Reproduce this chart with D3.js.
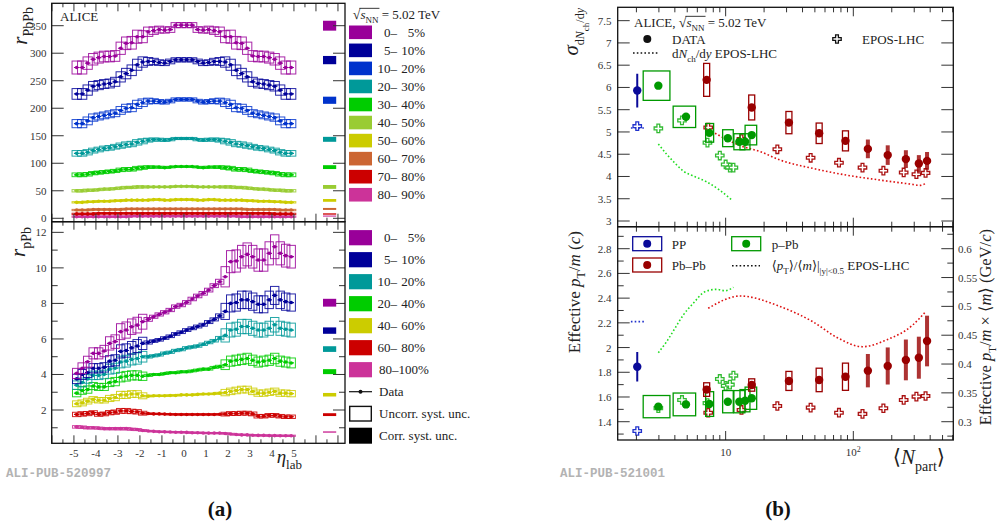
<!DOCTYPE html>
<html><head><meta charset="utf-8">
<script src="https://cdn.jsdelivr.net/npm/d3@7"></script>
<style>
body{margin:0;background:#fff}
svg{display:block}
</style>
</head><body>
<svg id="c" width="1001" height="531" font-family="'Liberation Serif','DejaVu Serif',serif" fill="#222"></svg>
<script>
// ---------------- DATA ----------------
const etaBins = [-4.875,-4.625,-4.375,-4.125,-3.875,-3.625,-3.375,-3.125,-2.875,-2.625,-2.375,-2.125,-1.875,-1.625,-1.375,-1.125,-0.875,-0.625,-0.375,-0.125,0.125,0.375,0.625,0.875,1.125,1.375,1.625,1.875,2.125,2.375,2.625,2.875,3.125,3.375,3.625,3.875,4.125,4.375,4.625,4.875];

const pbpbLabels = ["0–|5%","5–|10%","10–|20%","20–|30%","30–|40%","40–|50%","50–|60%","60–|70%","70–|80%","80–|90%"];
const pbpbColors = ["#990099","#000099","#0033cc","#009999","#00cc00","#99cc33","#cccc00","#cc6633","#cc0000","#cc3399"];
const pbpb_0_5   = [274,274,282,289,292,294,294,295,309,318,319,330,330,339,341,343,342,343,351,351,351,351,343,342,343,341,339,330,330,319,318,309,295,294,294,292,289,282,274,274];
const pbpb_5_10  = [226,226,233,240,242,244,245,248,257,263,269,279,284,285,285,283,282,285,288,288,288,288,285,282,283,285,285,284,279,269,263,257,248,245,244,242,240,233,226,226];
const pbpb_10_20 = [172,172,177,183,185,187,189,191,196,200,201,207,210,213,213,212,211,213,216,216,216,216,213,211,212,213,213,210,207,201,200,196,191,189,187,185,183,177,172,172];
const pbpb_20_30 = [118,118,120,123,125,127,128,130,132,134,135,138,140,142,143,143,142,143,145,145,145,145,143,142,143,143,142,140,138,135,134,132,130,128,127,125,123,120,118,118];
const pbpb_30_40 = [79,79,80,82,83,84,85,86,88,89,89,91,92,93,93,93,92,93,94,94,94,94,93,92,93,93,93,92,91,89,89,88,86,85,84,83,82,80,79,79];
const pbpb_40_50 = [50,50,51,51,52,53,53,54,55,56,56,57,57,57,57,57,57,57,58,58,58,58,57,57,57,57,57,57,57,56,56,55,54,53,53,52,51,51,50,50];
const pbpb_50_60 = [29,29,30,30,31,31,31,32,32,33,33,33,33,33,34,34,33,33,34,34,34,34,33,33,34,34,33,33,33,33,33,32,32,31,31,31,30,30,29,29];
const pbpb_60_70 = [15,15,15,16,16,16,16,16,16,17,17,17,17,17,17,17,17,17,17,17,17,17,17,17,17,17,17,17,17,17,17,16,16,16,16,16,16,15,15,15];
const pbpb_70_80 = [8,8,8,8,9,9,9,9,9,9,9,9,9,9,9,9,9,9,9,9,9,9,9,9,9,9,9,9,9,9,9,9,9,9,9,9,8,8,8,8];
const pbpb_80_90 = [3,3,3,3,3,3,3,3,3,3,4,4,4,4,4,4,4,4,4,4,4,4,4,4,4,4,4,4,4,4,3,3,3,3,3,3,3,3,3,3];
const pbpbRelUnc = [0.043,0.043,0.04,0.036,0.034,0.033,0.033,0.033,0.036,0.036,0.036,0.036,0.033,0.025,0.02,0.018,0.016,0.015,0.013,0.013,0.013,0.013,0.015,0.016,0.018,0.02,0.025,0.033,0.036,0.036,0.036,0.036,0.033,0.033,0.033,0.034,0.036,0.04,0.043,0.043];
const pbpbCorrVal  = [350,287.5,214.5,143.5,93,57,32.5,17,7.8,4];
const pbpbCorrHalf = [9,7.5,6.5,4.5,3.5,3.5,2.5,1.8,1.2,1];

const ppbLabels = ["0–|5%","5–|10%","10–|20%","20–|40%","40–|60%","60–|80%","80–100%|"];
const ppbColors = ["#990099","#000099","#009999","#00cc00","#cccc00","#cc0000","#cc3399"];
const ppb_0_5   = [4.06,4.35,4.72,5.19,5.19,5.32,5.75,5.85,6.41,6.5,6.69,6.78,6.97,7.1,7.25,7.38,7.5,7.63,7.82,7.91,8.06,8.25,8.42,8.57,8.75,9.0,9.22,9.5,10.35,10.39,10.63,10.76,10.63,10.44,10.44,10.82,11.19,10.82,10.69,10.63];
const ppb_5_10  = [3.75,4.0,4.1,4.35,4.35,4.4,4.75,4.8,5.3,5.35,5.5,5.6,5.75,5.8,5.88,5.95,6.05,6.15,6.28,6.38,6.5,6.6,6.7,6.8,6.95,7.1,7.3,7.55,8.0,8.05,8.2,8.2,8.1,7.95,7.95,8.2,8.45,8.2,8.1,8.05];
const ppb_10_20 = [3.4,3.55,3.75,3.95,3.95,4.0,4.3,4.35,4.7,4.75,4.85,4.9,5.0,5.0,5.05,5.1,5.2,5.25,5.35,5.4,5.5,5.55,5.6,5.7,5.8,5.9,6.05,6.2,6.5,6.55,6.7,6.7,6.6,6.5,6.5,6.6,6.8,6.6,6.55,6.5];
const ppb_20_40 = [2.95,3.1,3.15,3.35,3.3,3.3,3.55,3.6,3.85,3.9,3.95,3.95,3.9,3.95,4.0,4.0,4.05,4.1,4.1,4.15,4.15,4.2,4.25,4.3,4.3,4.4,4.45,4.55,4.75,4.8,4.85,4.9,4.8,4.7,4.75,4.8,4.9,4.75,4.7,4.65];
const ppb_40_60 = [2.35,2.4,2.5,2.6,2.55,2.55,2.65,2.7,2.85,2.85,2.9,2.9,2.8,2.78,2.8,2.8,2.8,2.82,2.82,2.85,2.85,2.85,2.88,2.9,2.9,2.92,2.95,2.98,3.05,3.1,3.15,3.15,3.05,2.95,2.95,3.0,3.05,2.95,2.95,2.92];
const ppb_60_80 = [1.75,1.78,1.8,1.85,1.75,1.78,1.85,1.88,1.95,1.95,1.92,1.9,1.82,1.8,1.78,1.78,1.77,1.76,1.75,1.75,1.75,1.75,1.75,1.75,1.75,1.75,1.76,1.77,1.8,1.8,1.82,1.82,1.78,1.65,1.65,1.7,1.7,1.65,1.62,1.62];
const ppb_80_100 = [1.05,1.03,1.0,1.0,0.98,0.95,0.95,0.95,0.95,0.95,0.92,0.9,0.85,0.82,0.8,0.78,0.77,0.76,0.75,0.75,0.74,0.72,0.72,0.71,0.7,0.7,0.7,0.68,0.65,0.62,0.6,0.6,0.58,0.57,0.57,0.56,0.56,0.55,0.55,0.55];
const ppbRelUnc = [0.07,0.07,0.065,0.06,0.06,0.06,0.065,0.065,0.07,0.07,0.065,0.065,0.06,0.015,0.012,0.012,0.012,0.012,0.012,0.012,0.012,0.012,0.012,0.012,0.012,0.012,0.015,0.06,0.06,0.06,0.06,0.06,0.06,0.06,0.06,0.06,0.06,0.06,0.06,0.06];
const ppbCorrVal  = [8.04,6.47,5.43,4.16,2.86,1.74,0.76];
const ppbCorrHalf = [0.22,0.18,0.16,0.14,0.1,0.08,0.04];

const pbpbTicks = [0,50,100,150,200,250,300,350];
const ppbTicks = [2,4,6,8,10,12];
const etaTicks = [-5,-4,-3,-2,-1,0,1,2,3,4,5];

// right panel (b)
const ppN = [2.03];
const ppSigma = [5.93];
const ppSigmaErr = [0.38];
const ppPt = [1.845];
const ppPtErr = [0.12];
const ppEposN = [2.03];
const ppEposSigma = [5.13];
const ppEposPt = [1.325];
const ppEposLineN = [1.81, 2.29];
const ppEposLineSigma = [5.09, 5.09];
const ppEposLinePt = [2.21, 2.21];

const ppbN   = [2.97, 4.89, 7.45, 10.4, 12.8, 14.2, 16.0];
const ppbNlo = [2.26, 3.88, 6.97, 9.47, 11.6, 12.95, 14.2];
const ppbNhi = [3.66, 5.82, 8.05, 11.47, 14.15, 15.5, 17.5];
const ppbSigma = [6.04, 5.34, 4.98, 4.86, 4.78, 4.78, 4.93];
const ppbSigmaSys = [0.33, 0.24, 0.21, 0.19, 0.18, 0.18, 0.22];
const ppbPt = [1.522, 1.54, 1.543, 1.562, 1.562, 1.57, 1.59];
const ppbPtSys = [0.09, 0.092, 0.1, 0.09, 0.09, 0.09, 0.09];
const ppbEposN = [2.97, 4.55, 7.2, 9.0, 10.0, 10.8, 11.5];
const ppbEposSigma = [5.08, 5.26, 4.76, 4.47, 4.27, 4.2, 4.2];
const ppbEposPt = [1.51, 1.576, 1.55, 1.746, 1.69, 1.70, 1.773];
const ppbEposLineN = [2.97, 3.45, 4.01, 4.66, 5.58, 7.1, 9.0, 11.2];
const ppbEposLineSigma = [4.73, 4.50, 4.30, 4.12, 4.01, 3.88, 3.69, 3.47];
const ppbEposLinePtN = [2.97, 3.45, 4.01, 4.66, 5.58, 6.88, 8.5, 9.87, 11.5];
const ppbEposLinePt = [1.958, 2.048, 2.156, 2.264, 2.358, 2.452, 2.471, 2.46, 2.488];

const pbN = [7.1, 16.0, 31.3, 54, 86.8, 130, 186, 258, 326, 378];
const pbSigma = [6.17, 5.55, 5.21, 4.97, 4.80, 4.62, 4.48, 4.39, 4.29, 4.35];
const pbSigmaSys = [0.37, 0.28, 0.25, 0.23, 0.225, 0.21, 0.22, 0.2, 0.19, 0.2];
const pbPt = [1.66, 1.697, 1.73, 1.738, 1.764, 1.813, 1.851, 1.90, 1.918, 2.053];
const pbPtSys = [0.055, 0.05, 0.077, 0.095, 0.11, 0.135, 0.15, 0.165, 0.17, 0.205];
const pbEposN = [7.3, 13.3, 25.4, 46.3, 77.2, 118, 172, 248, 312, 368];
const pbEposSigma = [5.10, 4.84, 4.61, 4.42, 4.31, 4.20, 4.13, 4.09, 4.05, 4.08];
const pbEposPt = [1.473, 1.495, 1.527, 1.514, 1.473, 1.463, 1.509, 1.576, 1.603, 1.608];
const pbEposLineN = [6.9, 13.7, 18.6, 26.6, 48.5, 88.5, 161, 294, 330, 368];
const pbEposLineSigma = [5.10, 4.67, 4.56, 4.37, 4.18, 4.03, 3.92, 3.82, 3.80, 3.84];
const pbEposLinePtN = [7.3, 13, 27, 48, 75, 118, 180, 290, 368];
const pbEposLinePt = [2.318, 2.417, 2.33, 2.21, 2.08, 2.007, 2.06, 2.18, 2.29];

const sigmaTicks = [3,3.5,4,4.5,5,5.5,6,6.5,7,7.5];
const ptTicks = [1.4,1.6,1.8,2,2.2,2.4,2.6,2.8];
const ptRightTicks = [0.3,0.35,0.4,0.45,0.5,0.55,0.6];
const meanMass = 0.6/2.8;

// ---------------- DRAWING ----------------
const svg = d3.select("#c");
svg.append("rect").attr("width",1001).attr("height",531).attr("fill","#fff");

const xEta = d3.scaleLinear().domain([-6.01, 7.32]).range([51.7, 345]);
const yPb  = d3.scaleLinear().domain([-6.2, 390.7]).range([221.7, 3.3]);
const yP   = d3.scaleLinear().domain([0.126, 12.6]).range([443.3, 221.7]);
const xN   = d3.scaleLog().domain([1.427, 606.9]).range([617.7, 953.3]);
const ySig = d3.scaleLinear().domain([2.872, 7.80]).range([226.7, 7.3]);
const yPt  = d3.scaleLinear().domain([1.252, 2.978]).range([440, 226.7]);
const yPtR = d3.scaleLinear().domain([1.252*meanMass, 2.978*meanMass]).range([440, 226.7]);

const defs = svg.append("defs");
function clip(id, x0, y0, x1, y1){
  defs.append("clipPath").attr("id",id).append("rect").attr("x",x0).attr("y",y0).attr("width",x1-x0).attr("height",y1-y0);
  return svg.append("g").attr("clip-path",`url(#${id})`);
}

// rich text helper: parts {t, it, sub, sub2, sup, ol, size}
function rich(parent, x, y, parts, opt={}){
  const size = opt.size || 13;
  const t = parent.append("text").attr("x",x).attr("y",y).attr("font-size",size)
    .attr("text-anchor",opt.anchor||"start");
  if(opt.fill) t.attr("fill",opt.fill);
  let cur = 0;
  const ols = [];
  parts.forEach(p=>{
    const shift = (p.sub? size*0.32 : 0) + (p.sub2? size*0.55:0) + (p.sup? -size*0.4 : 0);
    const ts = t.append("tspan").text(p.t).attr("dy", shift-cur);
    cur = shift;
    if(p.it) ts.attr("font-style","italic");
    if(p.size) ts.attr("font-size",p.size);
    else if(p.sub||p.sup||p.sub2) ts.attr("font-size", size*(p.sub2?0.6:0.72));
    if(p.ol) ols.push(ts);
  });
  if(ols.length){
    const n0 = ols[0].node(), n1 = ols[ols.length-1].node();
    const a = n0.getStartPositionOfChar(0), b = n1.getEndPositionOfChar(n1.getNumberOfChars()-1);
    parent.append("line").attr("x1",a.x-1).attr("x2",b.x+1).attr("y1",y-size*0.82).attr("y2",y-size*0.82)
      .attr("stroke","#222").attr("stroke-width",0.9);
  }
  return t;
}

const tickCol = "#333";
function hTick(g, y, x0, len){ g.append("line").attr("x1",x0).attr("x2",x0+len).attr("y1",y).attr("y2",y).attr("stroke",tickCol).attr("stroke-width",1); }
function vTick(g, x, y0, len){ g.append("line").attr("x1",x).attr("x2",x).attr("y1",y0).attr("y2",y0+len).attr("stroke",tickCol).attr("stroke-width",1); }
function frame(x0,y0,x1,y1){
  svg.append("rect").attr("x",x0).attr("y",y0).attr("width",x1-x0).attr("height",y1-y0)
    .attr("fill","none").attr("stroke","#111").attr("stroke-width",1.3);
}
const tickFont = 11;

// ===== Panel (a) top: PbPb =====
const gA1 = clip("cA1", 51.7, 3.3, 345, 221.7);
const pbpbSeries = [pbpb_0_5,pbpb_5_10,pbpb_10_20,pbpb_20_30,pbpb_30_40,pbpb_40_50,pbpb_50_60,pbpb_60_70,pbpb_70_80,pbpb_80_90];
const boxHalfW = 0.21;
for(let s=pbpbSeries.length-1; s>=0; s--){
  const vals = pbpbSeries[s], col = pbpbColors[s];
  const g = gA1.append("g");
  etaBins.forEach((e,i)=>{
    const v = vals[i], u = Math.max(v*pbpbRelUnc[i], 1.2);
    g.append("rect").attr("x",xEta(e-boxHalfW)).attr("width",xEta(e+boxHalfW)-xEta(e-boxHalfW))
      .attr("y",yPb(v+u)).attr("height",yPb(v-u)-yPb(v+u))
      .attr("fill","none").attr("stroke",col).attr("stroke-width",1).attr("stroke-opacity",0.85);
  });
  etaBins.forEach((e,i)=>{
    g.append("line").attr("x1",xEta(e-0.125)).attr("x2",xEta(e+0.125)).attr("y1",yPb(vals[i])).attr("y2",yPb(vals[i]))
      .attr("stroke",col).attr("stroke-width",1.2);
    g.append("circle").attr("cx",xEta(e)).attr("cy",yPb(vals[i])).attr("r",1.8).attr("fill",col);
  });
  gA1.append("rect").attr("x",xEta(6.32)).attr("width",xEta(6.92)-xEta(6.32))
    .attr("y",yPb(pbpbCorrVal[s]+pbpbCorrHalf[s])).attr("height",yPb(pbpbCorrVal[s]-pbpbCorrHalf[s])-yPb(pbpbCorrVal[s]+pbpbCorrHalf[s]))
    .attr("fill",col);
}
const gAx = svg.append("g");
pbpbTicks.forEach(v=>{
  hTick(gAx, yPb(v), 51.7, 12); hTick(gAx, yPb(v), 345-12, 12);
  gAx.append("text").attr("x",46.5).attr("y",yPb(v)+4).attr("text-anchor","end").attr("font-size",tickFont).attr("fill",tickCol).text(v);
});
for(let v=-6; v<=7; v+=0.5){
  const major = Number.isInteger(v);
  vTick(gAx, xEta(v), 221.7, major?-8:-4);
  vTick(gAx, xEta(v), 3.3, major?8:4);
}
frame(51.7,3.3,345,221.7);
svg.append("text").attr("x",60).attr("y",21).attr("font-size",13).text("ALICE");
{
  const g = svg.append("g").attr("transform","translate(26.5,7) rotate(-90)");
  rich(g,0,0,[{t:"r",it:true,size:21},{t:"PbPb",sub:true,size:14}],{size:20,anchor:"end"});
}

// ===== Panel (a) bottom: pPb =====
const gA2 = clip("cA2", 51.7, 221.7, 345, 443.3);
const ppbSeries = [ppb_0_5,ppb_5_10,ppb_10_20,ppb_20_40,ppb_40_60,ppb_60_80,ppb_80_100];
const pBoxHalfW = 0.19;
for(let s=ppbSeries.length-1; s>=0; s--){
  const vals = ppbSeries[s], col = ppbColors[s];
  const g = gA2.append("g");
  etaBins.forEach((e,i)=>{
    const v = vals[i], u = Math.max(v*ppbRelUnc[i], 0.035);
    g.append("rect").attr("x",xEta(e-pBoxHalfW)).attr("width",xEta(e+pBoxHalfW)-xEta(e-pBoxHalfW))
      .attr("y",yP(v+u)).attr("height",yP(v-u)-yP(v+u))
      .attr("fill","none").attr("stroke",col).attr("stroke-width",1).attr("stroke-opacity",0.85);
  });
  etaBins.forEach((e,i)=>{
    g.append("line").attr("x1",xEta(e-0.125)).attr("x2",xEta(e+0.125)).attr("y1",yP(vals[i])).attr("y2",yP(vals[i]))
      .attr("stroke",col).attr("stroke-width",1.2);
    g.append("circle").attr("cx",xEta(e)).attr("cy",yP(vals[i])).attr("r",1.8).attr("fill",col);
  });
  gA2.append("rect").attr("x",xEta(6.32)).attr("width",xEta(6.92)-xEta(6.32))
    .attr("y",yP(ppbCorrVal[s]+ppbCorrHalf[s])).attr("height",yP(ppbCorrVal[s]-ppbCorrHalf[s])-yP(ppbCorrVal[s]+ppbCorrHalf[s]))
    .attr("fill",col);
}
for(let v=1; v<=12; v++){
  const major = ppbTicks.includes(v);
  hTick(gAx, yP(v), 51.7, major?12:6); hTick(gAx, yP(v), 345-(major?12:6), major?12:6);
  if(major) gAx.append("text").attr("x",46.5).attr("y",yP(v)+4).attr("text-anchor","end").attr("font-size",tickFont).attr("fill",tickCol).text(v);
}
for(let v=-6; v<=7; v+=0.5){
  const major = Number.isInteger(v);
  vTick(gAx, xEta(v), 443.3, major?-8:-4);
  vTick(gAx, xEta(v), 221.7, major?8:4);
}
etaTicks.forEach(v=>{
  gAx.append("text").attr("x",xEta(v)).attr("y",457).attr("text-anchor","middle").attr("font-size",tickFont).attr("fill",tickCol).text(v);
});
frame(51.7,221.7,345,443.3);
{
  const g = svg.append("g").attr("transform","translate(25,227) rotate(-90)");
  rich(g,0,0,[{t:"r",it:true,size:21},{t:"pPb",sub:true,size:14}],{size:20,anchor:"end"});
}
rich(svg, 302, 463, [{t:"η",it:true,size:19},{t:"lab",sub:true,size:13}], {size:19,anchor:"end"});

// legends (a)
rich(svg, 352.7, 19, [{t:"√",size:14},{t:"s",it:true,ol:true},{t:"NN",sub:true,ol:true,size:9},{t:" = 5.02 TeV"}], {size:13});
pbpbLabels.forEach((l,i)=>{
  const y = 32.3 + i*18.05;
  svg.append("rect").attr("x",349).attr("y",y-6.8).attr("width",23).attr("height",13.6).attr("fill",pbpbColors[i]);
  const [a,b] = l.split("|");
  svg.append("text").attr("x",397).attr("y",y+4.5).attr("text-anchor","end").attr("font-size",13).text(a);
  svg.append("text").attr("x",425).attr("y",y+4.5).attr("text-anchor","end").attr("font-size",13).text(b);
});
ppbLabels.forEach((l,i)=>{
  const y = 237.7 + i*22;
  svg.append("rect").attr("x",349).attr("y",y-7.6).attr("width",23).attr("height",15.2).attr("fill",ppbColors[i]);
  const [a,b] = l.split("|");
  if(b===""){ svg.append("text").attr("x",379).attr("y",y+4.5).attr("font-size",13).text(a); }
  else {
    svg.append("text").attr("x",397).attr("y",y+4.5).attr("text-anchor","end").attr("font-size",13).text(a);
    svg.append("text").attr("x",425).attr("y",y+4.5).attr("text-anchor","end").attr("font-size",13).text(b);
  }
});
{
  let y = 237.7 + 7*22;
  svg.append("line").attr("x1",349).attr("x2",372).attr("y1",y).attr("y2",y).attr("stroke","#111").attr("stroke-width",1.2);
  svg.append("circle").attr("cx",360.5).attr("cy",y).attr("r",2).attr("fill","#111");
  svg.append("text").attr("x",379).attr("y",y+4.5).attr("font-size",13).text("Data");
  y += 22;
  svg.append("rect").attr("x",349.7).attr("y",y-7.3).attr("width",21.6).attr("height",14.6).attr("fill","#fff").attr("stroke","#111").attr("stroke-width",1.4);
  svg.append("text").attr("x",379).attr("y",y+4.5).attr("font-size",13).text("Uncorr. syst. unc.");
  y += 22;
  svg.append("rect").attr("x",349).attr("y",y-8).attr("width",23).attr("height",16).attr("fill","#000");
  svg.append("text").attr("x",379).attr("y",y+4.5).attr("font-size",13).text("Corr. syst. unc.");
}

// ===== Panel (b) =====
const ppCol = "#0a0a99", ppbCol = "#009900", pbCol = "#990000";
const eposGreen = "#22dd22", eposRed = "#dd1111";
function crossPath(s){ const a=s, b=s/3; return `M${-b},${-a}H${b}V${-b}H${a}V${b}H${b}V${a}H${-b}V${b}H${-a}V${-b}H${-b}Z`; }
function cross(g, x, y, col){ g.append("path").attr("d",crossPath(4.2)).attr("transform",`translate(${x},${y})`).attr("fill","#fff").attr("stroke",col).attr("stroke-width",1.3); }
const dotted = "1.6,2.2";
function dline(g, xs, ys, yScale, col){
  const line = d3.line().x((d,i)=>xN(xs[i])).y((d,i)=>yScale(ys[i])).curve(d3.curveMonotoneX);
  g.append("path").attr("d",line(xs)).attr("fill","none").attr("stroke",col).attr("stroke-width",1.6).attr("stroke-dasharray",dotted);
}
function drawBPanel(g, yS, ppV, ppE, ppbV, ppbS, pbV, pbS, ppEp, ppbEp, pbEp, ppLine, ppbLineN, ppbLineV, pbLineN, pbLineV){
  dline(g, ppEposLineN, ppLine, yS, "#2233cc");
  dline(g, ppbLineN, ppbLineV, yS, eposGreen);
  dline(g, pbLineN, pbLineV, yS, eposRed);
  ppbEposN.forEach((n,i)=>cross(g, xN(n), yS(ppbEp[i]), "#33bb33"));
  pbEposN.forEach((n,i)=>cross(g, xN(n), yS(pbEp[i]), "#aa1111"));
  ppEposN.forEach((n,i)=>cross(g, xN(n), yS(ppEp[i]), "#2233cc"));
  ppN.forEach((n,i)=>{
    g.append("line").attr("x1",xN(n)).attr("x2",xN(n)).attr("y1",yS(ppV[i]-ppE[i])).attr("y2",yS(ppV[i]+ppE[i])).attr("stroke",ppCol).attr("stroke-width",2);
    g.append("circle").attr("cx",xN(n)).attr("cy",yS(ppV[i])).attr("r",4.2).attr("fill",ppCol);
  });
  ppbN.forEach((n,i)=>{
    g.append("rect").attr("x",xN(ppbNlo[i])).attr("width",xN(ppbNhi[i])-xN(ppbNlo[i]))
      .attr("y",yS(ppbV[i]+ppbS[i])).attr("height",yS(ppbV[i]-ppbS[i])-yS(ppbV[i]+ppbS[i]))
      .attr("fill","none").attr("stroke",ppbCol).attr("stroke-width",1.3);
  });
  ppbN.forEach((n,i)=>g.append("circle").attr("cx",xN(n)).attr("cy",yS(ppbV[i])).attr("r",4.2).attr("fill",ppbCol));
  pbN.forEach((n,i)=>{
    const x = xN(n), y0 = yS(pbV[i]+pbS[i]), y1 = yS(pbV[i]-pbS[i]);
    if(i<5){
      g.append("rect").attr("x",x-3).attr("width",6).attr("y",y0).attr("height",y1-y0)
        .attr("fill","none").attr("stroke",pbCol).attr("stroke-width",1.3);
    } else {
      g.append("rect").attr("x",x-2).attr("width",4).attr("y",y0).attr("height",y1-y0)
        .attr("fill",pbCol).attr("fill-opacity",0.8);
    }
    g.append("circle").attr("cx",x).attr("cy",yS(pbV[i])).attr("r",4.2).attr("fill",pbCol);
  });
}
const gB1 = clip("cB1", 617.7, 7.3, 953.3, 226.7);
drawBPanel(gB1, ySig, ppSigma, ppSigmaErr, ppbSigma, ppbSigmaSys, pbSigma, pbSigmaSys, ppEposSigma, ppbEposSigma, pbEposSigma,
  ppEposLineSigma, ppbEposLineN, ppbEposLineSigma, pbEposLineN, pbEposLineSigma);
const gB2 = clip("cB2", 617.7, 226.7, 953.3, 440);
drawBPanel(gB2, yPt, ppPt, ppPtErr, ppbPt, ppbPtSys, pbPt, pbPtSys, ppEposPt, ppbEposPt, pbEposPt,
  ppEposLinePt, ppbEposLinePtN, ppbEposLinePt, pbEposLinePtN, pbEposLinePt);

// axes (b)
const gBx = svg.append("g");
sigmaTicks.forEach(v=>{
  hTick(gBx, ySig(v), 617.7, 12); hTick(gBx, ySig(v), 953.3-12, 12);
  gBx.append("text").attr("x",611.5).attr("y",ySig(v)+4).attr("text-anchor","end").attr("font-size",tickFont).attr("fill",tickCol).text(v);
});
for(let v=1.3; v<=2.95; v+=0.1){
  const vv = Math.round(v*10)/10;
  const major = ptTicks.some(t=>Math.abs(t-vv)<1e-6);
  hTick(gBx, yPt(vv), 617.7, major?12:6);
  if(major) gBx.append("text").attr("x",611.5).attr("y",yPt(vv)+4).attr("text-anchor","end").attr("font-size",tickFont).attr("fill",tickCol).text(vv);
}
for(let v=0.275; v<=0.64; v+=0.025){
  const vv = Math.round(v*1000)/1000;
  const major = ptRightTicks.some(t=>Math.abs(t-vv)<1e-6);
  hTick(gBx, yPtR(vv), 953.3-(major?12:6), major?12:6);
  if(major) gBx.append("text").attr("x",958).attr("y",yPtR(vv)+4).attr("font-size",tickFont).attr("fill",tickCol).text(vv);
}
const logTicks = [];
[1,10,100].forEach(d=>{ for(let k=1;k<=9;k++){ const v=d*k; if(v>=1.5 && v<=600) logTicks.push(v); } });
logTicks.forEach(v=>{
  const major = (v===10||v===100);
  [7.3,226.7].forEach(y=>vTick(gBx, xN(v), y, major?9:5));
  [226.7,440].forEach(y=>vTick(gBx, xN(v), y, major?-9:-5));
});
gBx.append("text").attr("x",xN(10)).attr("y",456).attr("text-anchor","middle").attr("font-size",tickFont).attr("fill",tickCol).text("10");
rich(gBx, xN(100), 456, [{t:"10"},{t:"2",sup:true,size:8}], {size:tickFont, anchor:"middle", fill:tickCol});
frame(617.7,7.3,953.3,226.7);
frame(617.7,226.7,953.3,440);

rich(svg, 945, 464, [{t:"⟨"},{t:"N",it:true},{t:"part",sub:true,size:14},{t:"⟩"}], {size:21, anchor:"end"});
{
  const g = svg.append("g").attr("transform","translate(578,8) rotate(-90)");
  rich(g,0,0,[{t:"σ",it:true,size:21},{t:"d",sub:true,size:12},{t:"N",it:true,sub:true,size:12},{t:"ch",sub2:true,size:9},{t:"/d",sub:true,size:12},{t:"y",it:true,sub:true,size:12}],{size:20,anchor:"end"});
  const g2 = svg.append("g").attr("transform","translate(580,231) rotate(-90)");
  rich(g2,0,0,[{t:"Effective "},{t:"p",it:true},{t:"T",sub:true,size:12},{t:"/"},{t:"m",it:true},{t:" ("},{t:"c",it:true},{t:")"}],{size:17,anchor:"end"});
  const g3 = svg.append("g").attr("transform","translate(991,229) rotate(-90)");
  rich(g3,0,0,[{t:"Effective "},{t:"p",it:true},{t:"T",sub:true,size:11},{t:"/"},{t:"m",it:true},{t:" × ⟨"},{t:"m",it:true},{t:"⟩ (GeV/"},{t:"c",it:true},{t:")"}],{size:16.5,anchor:"end"});
}

// legend (b) top
rich(svg, 634, 27, [{t:"ALICE, "},{t:"√",size:14},{t:"s",it:true,ol:true},{t:"NN",sub:true,ol:true,size:9},{t:" = 5.02 TeV"}], {size:13});
svg.append("circle").attr("cx",647.3).attr("cy",39).attr("r",4).attr("fill","#111");
svg.append("text").attr("x",672).attr("y",43.5).attr("font-size",13).text("DATA");
svg.append("line").attr("x1",633).attr("x2",659).attr("y1",53).attr("y2",53).attr("stroke","#111").attr("stroke-width",1.6).attr("stroke-dasharray",dotted);
rich(svg, 672, 58, [{t:"d"},{t:"N",it:true},{t:"ch",sub:true,size:9},{t:"/d"},{t:"y",it:true},{t:" EPOS-LHC"}], {size:13});
cross(svg, 837, 39, "#111");
svg.append("text").attr("x",862).attr("y",43.5).attr("font-size",13).text("EPOS-LHC");

// legend (b) bottom
function legBox(x,y,col){
  svg.append("rect").attr("x",x).attr("y",y-7).attr("width",29).attr("height",14).attr("fill","none").attr("stroke",col).attr("stroke-width",1.3);
  svg.append("circle").attr("cx",x+14.5).attr("cy",y).attr("r",4).attr("fill",col);
}
legBox(632.7, 243.7, ppCol);
svg.append("text").attr("x",671.7).attr("y",248.5).attr("font-size",13).text("PP");
legBox(632.7, 265, pbCol);
svg.append("text").attr("x",671.7).attr("y",270).attr("font-size",13).text("Pb–Pb");
legBox(731.7, 243.7, ppbCol);
svg.append("text").attr("x",771.7).attr("y",248.5).attr("font-size",13).text("p–Pb");
svg.append("line").attr("x1",732).attr("x2",760).attr("y1",265.7).attr("y2",265.7).attr("stroke","#111").attr("stroke-width",1.6).attr("stroke-dasharray",dotted);
rich(svg, 771.7, 270, [{t:"⟨"},{t:"p",it:true},{t:"T",sub:true,size:9},{t:"⟩/⟨"},{t:"m",it:true},{t:"⟩|"},{t:"|y|<0.5",sub:true,size:9},{t:" EPOS-LHC"}], {size:13});

// footers
svg.append("text").attr("x",6).attr("y",477).attr("font-family","'Liberation Mono','DejaVu Sans Mono',monospace").attr("font-weight","bold").attr("font-size",12.5).attr("fill","#b3b3b3").text("ALI-PUB-520997");
svg.append("text").attr("x",560).attr("y",477).attr("font-family","'Liberation Mono','DejaVu Sans Mono',monospace").attr("font-weight","bold").attr("font-size",12.5).attr("fill","#b3b3b3").text("ALI-PUB-521001");
svg.append("text").attr("x",220).attr("y",516).attr("text-anchor","middle").attr("font-weight","bold").attr("font-size",21).attr("fill","#111").text("(a)");
svg.append("text").attr("x",778).attr("y",516).attr("text-anchor","middle").attr("font-weight","bold").attr("font-size",21).attr("fill","#111").text("(b)");
</script>
</body></html>
